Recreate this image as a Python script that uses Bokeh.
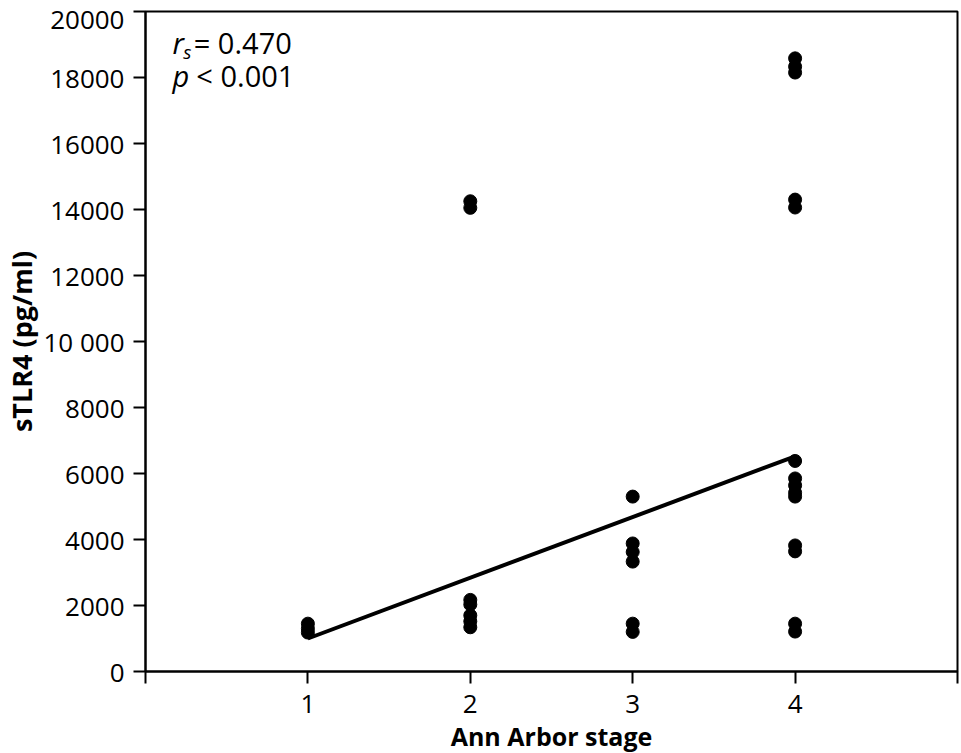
from bokeh.plotting import figure
from bokeh.models import FixedTicker, Label, ColumnDataSource
from bokeh.embed import file_html
from bokeh.resources import INLINE

# ---- data ----
stage1 = [1450, 1300, 1180]
stage2 = [14250, 14050, 2170, 2030, 1700, 1520, 1340]
stage3 = [5300, 3880, 3620, 3330, 1450, 1200]
stage4 = [18580, 18330, 18150, 14300, 14060, 6380, 5850, 5640, 5420, 5300, 3820, 3640, 1450, 1210]

fit_x = [1, 4]
fit_y = [1000, 6520]

y_ticks = [0, 2000, 4000, 6000, 8000, 10000, 12000, 14000, 16000, 18000, 20000]
x_ticks = [0, 1, 2, 3, 4, 5]
x_tick_labels = {0: "", 1: "1", 2: "2", 3: "3", 4: "4", 5: ""}
y_tick_overrides = {10000: "10 000"}

x_title = "Ann Arbor stage"
y_title = "sTLR4 (pg/ml)"

xs, ys = [], []
for st, vals in zip([1, 2, 3, 4], [stage1, stage2, stage3, stage4]):
    xs += [st] * len(vals)
    ys += vals
src = ColumnDataSource(dict(x=xs, y=ys))

FONT = "Open Sans"

p = figure(frame_width=812, frame_height=660, x_range=(0, 5), y_range=(0, 20000),
           output_backend="svg", toolbar_location=None,
           min_border_left=145, min_border_top=11, min_border_right=2,
           min_border_bottom=82)
p.background_fill_color = "white"
p.border_fill_color = "white"
p.xgrid.visible = False
p.ygrid.visible = False
p.outline_line_color = "black"
p.outline_line_width = 2

for ax in (p.xaxis[0], p.yaxis[0]):
    ax.axis_line_color = "black"
    ax.axis_line_width = 2
    ax.major_tick_line_color = "black"
    ax.major_tick_line_width = 2
    ax.major_tick_in = 0
    ax.major_tick_out = 12
    ax.minor_tick_line_color = None
    ax.major_label_text_font = FONT
    ax.major_label_text_font_size = "26px"
    ax.major_label_text_color = "black"
    ax.axis_label_text_font = FONT
    ax.axis_label_text_font_style = "bold"
    ax.axis_label_text_color = "black"

p.xaxis.ticker = FixedTicker(ticks=x_ticks)
p.xaxis.major_label_overrides = x_tick_labels
p.xaxis.major_label_standoff = 11
p.xaxis.axis_label = x_title
p.xaxis.axis_label_text_font_size = "25px"
p.xaxis.axis_label_standoff = 3

p.yaxis.ticker = FixedTicker(ticks=y_ticks)
p.yaxis.major_label_overrides = y_tick_overrides
p.yaxis.major_label_standoff = 9
p.yaxis.axis_label = y_title
p.yaxis.axis_label_text_font_size = "27px"
p.yaxis.axis_label_standoff = 0

p.line(fit_x, fit_y, line_color="black", line_width=4)
p.scatter("x", "y", source=src, size=13, fill_color="black", line_color="black")

# annotation
ann_style = dict(text_font=FONT, text_color="black", text_baseline="alphabetic")
p.add_layout(Label(x=0.166, y=19060, text="r", text_font_size="29px",
                   text_font_style="italic", **ann_style))
p.add_layout(Label(x=0.232, y=18785, text="s", text_font_size="19px",
                   text_font_style="italic", **ann_style))
p.add_layout(Label(x=0.297, y=19060, text="= 0.470", text_font_size="29px", **ann_style))
p.add_layout(Label(x=0.166, y=18060, text="p", text_font_size="29px",
                   text_font_style="italic", **ann_style))
p.add_layout(Label(x=0.313, y=18060, text="< 0.001", text_font_size="29px", **ann_style))

open("out.html", "w").write(file_html(p, INLINE))
